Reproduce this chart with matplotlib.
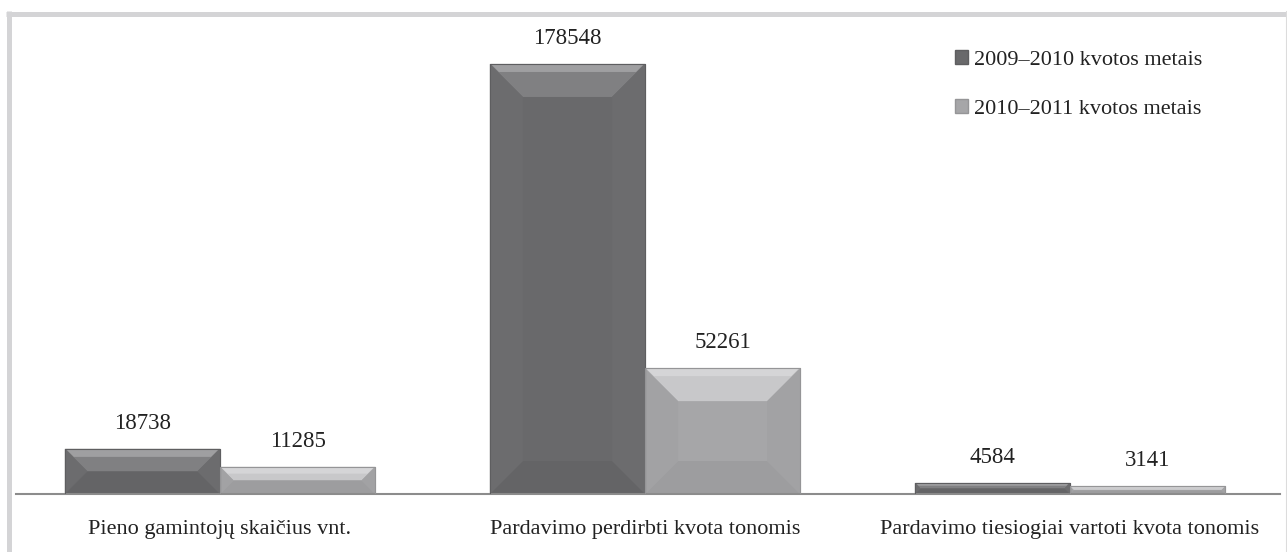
import matplotlib.pyplot as plt
from matplotlib.patches import Polygon, Patch
from matplotlib.lines import Line2D
import numpy as np

# data
categories = ['Pieno gamintojų skaičius vnt.',
              'Pardavimo perdirbti kvota tonomis',
              'Pardavimo tiesiogiai vartoti kvota tonomis']
series_names = ['2009–2010 kvotos metais', '2010–2011 kvotos metais']
values_2009 = [18738, 178548, 4584]
values_2010 = [11285, 52261, 3141]

plt.rcParams['font.family'] = ['Liberation Serif', 'DejaVu Serif']

W, H = 1287, 552
fig = plt.figure(figsize=(W / 100, H / 100), dpi=100)
fig.patch.set_facecolor('white')

# grey frame around the chart
frame = '#d4d4d6'
fig.add_artist(Line2D([8.5 / W, 8.5 / W], [0, 1 - 11 / H], color=frame, lw=3.6,
                      transform=fig.transFigure, solid_capstyle='butt'))
fig.add_artist(Line2D([6 / W, 1], [1 - 13.5 / H, 1 - 13.5 / H], color=frame, lw=3.6,
                      transform=fig.transFigure, solid_capstyle='butt'))
fig.add_artist(Line2D([1285.5 / W, 1285.5 / W], [0, 1 - 11 / H], color='#dcdcdc', lw=0.8,
                      transform=fig.transFigure))

base_y = 494
ax = fig.add_axes([16 / W, (H - base_y) / H, (1280 - 16) / W, (base_y - 12.3) / H])

x = np.arange(len(categories))
bw = 0.365
styles = [
    # main, top, side, bottom, edge
    ('#69696b', '#808082', '#6c6c6e', '#646466', '#5e5e60'),
    ('#a6a6a8', '#c8c8ca', '#a2a2a4', '#9d9d9f', '#959597'),
]

bars1 = ax.bar(x - bw / 2, values_2009, bw, color=styles[0][0], edgecolor=styles[0][4], lw=0.8)
bars2 = ax.bar(x + bw / 2, values_2010, bw, color=styles[1][0], edgecolor=styles[1][4], lw=0.8)

ax.set_xlim(-0.48, 2.494)
ax.set_ylim(0, 200000)

for sp in ['left', 'right', 'top']:
    ax.spines[sp].set_visible(False)
ax.spines['bottom'].set_color('#8c8c8c')
ax.spines['bottom'].set_linewidth(1.5)
ax.set_yticks([])
ax.set_xticks(x, categories, fontsize=16, color='#222222')
ax.tick_params(axis='x', length=0, pad=19)

# bevel effect built from each bar's own geometry (display space)
fig.canvas.draw()
to_data = ax.transData.inverted()
for bars, st in [(bars1, styles[0]), (bars2, styles[1])]:
    for b in bars:
        (x0, y0), (x1, y1) = ax.transData.transform([(b.get_x(), 0),
                                                     (b.get_x() + b.get_width(), b.get_height())])
        bev = min(33, (y1 - y0) / 2)
        pieces = [
            ([(x0, y1), (x1, y1), (x1 - bev, y1 - bev), (x0 + bev, y1 - bev)], st[1]),
            ([(x0, y0), (x1, y0), (x1 - bev, y0 + bev), (x0 + bev, y0 + bev)], st[3]),
            ([(x0, y0), (x0, y1), (x0 + bev, y1 - bev), (x0 + bev, y0 + bev)], st[2]),
            ([(x1, y0), (x1, y1), (x1 - bev, y1 - bev), (x1 - bev, y0 + bev)], st[2]),
        ]
        for pts, c in pieces:
            ax.add_patch(Polygon(to_data.transform(pts), closed=True, facecolor=c,
                                 edgecolor='none', zorder=2.5))
        # lighter strip just under the top edge
        hl = min(8, bev / 2)
        ax.add_patch(Polygon(to_data.transform([(x0 + 2, y1 - 1), (x1 - 2, y1 - 1),
                                                (x1 - 1 - hl, y1 - hl), (x0 + 1 + hl, y1 - hl)]),
                             closed=True, facecolor='white', alpha=0.25, edgecolor='none', zorder=2.55))
        ax.add_patch(Polygon(to_data.transform([(x0, y0), (x0, y1), (x1, y1), (x1, y0)]),
                             closed=True, facecolor='none', edgecolor=st[4], lw=0.8, zorder=2.6))
        ax.annotate(f'{int(b.get_height())}', (b.get_x() + b.get_width() / 2, b.get_height()),
                    xytext=(0, 15), textcoords='offset pixels', ha='center', va='bottom',
                    fontsize=16.5, color='#222222')

handles = [Patch(facecolor=styles[0][0], edgecolor=styles[0][4]),
           Patch(facecolor=styles[1][0], edgecolor=styles[1][4])]
fig.legend(handles, series_names, loc='upper left', bbox_to_anchor=(935 / W, 1 - 30 / H),
           frameon=False, fontsize=16, handlelength=0.6, handleheight=0.6,
           handletextpad=0.25, labelspacing=1.3, labelcolor='#222222')

fig.savefig('out.png', dpi=100)
